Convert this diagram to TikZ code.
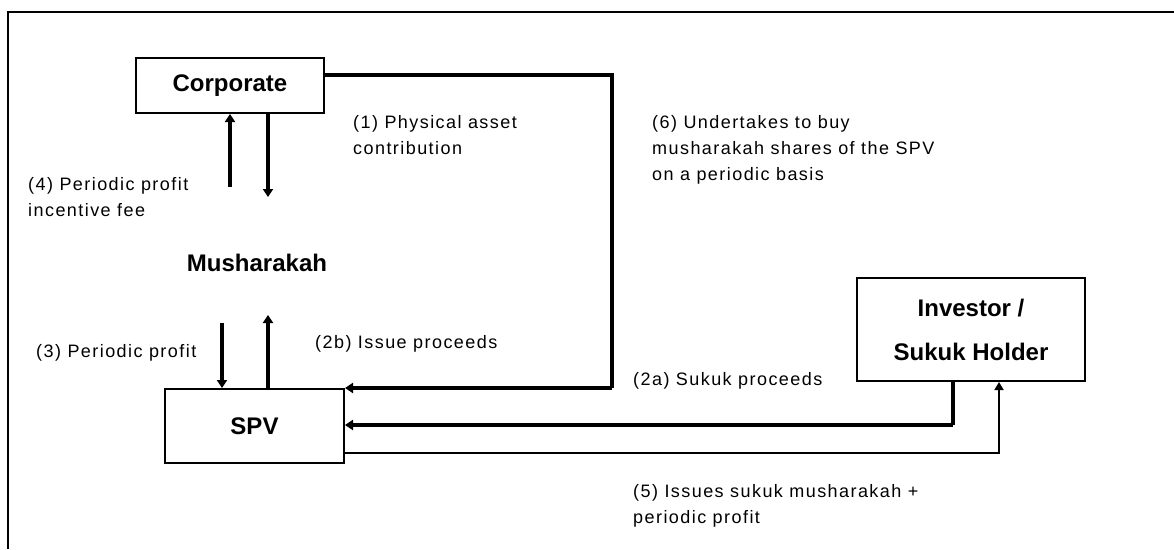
\documentclass[tikz,border=0pt]{standalone}
\usepackage{fontspec}
\setmainfont{Liberation Sans}
\usetikzlibrary{arrows.meta}
\newfontfamily\lblfont[LetterSpace=8]{Liberation Sans}
\tikzset{
  x=1pt, y=-1pt,
  box/.style={draw, line width=2pt, font=\fontsize{24}{44}\selectfont\bfseries, inner sep=0pt},
  title/.style={font=\fontsize{24}{28}\selectfont\bfseries, inner sep=0pt},
  lbl/.style={font=\lblfont\fontsize{18}{26}\selectfont, align=left, anchor=north west, inner sep=0pt},
  flow/.style={line width=3.5pt, -{Triangle[length=8pt,width=10pt]}},
  thinflow/.style={line width=1.8pt, -{Triangle[length=8pt,width=9pt]}},
  link/.style={line width=3.5pt}
}
\begin{document}
\begin{tikzpicture}
\useasboundingbox (0,0) rectangle (1174,549);
% outer frame (top and left edges)
\draw[line width=2.5pt] (8,549) -- (8,12) -- (1174,12);

% parties
\node[box, minimum width=188pt, minimum height=55pt] (corp) at (230,85.5) {Corporate};
\node[box, minimum width=179pt, minimum height=74pt] (spv) at (254.5,426) {SPV};
\node[box, minimum width=228pt, minimum height=103pt, align=center] (inv) at (971,329.5) {Investor /\\Sukuk Holder};
\node[title] (mush) at (257,263) {Musharakah};

% corner points of the routed connectors
\coordinate (c1a) at (612,75);
\coordinate (c1b) at (612,388);
\coordinate (c2a) at (953,425);
\coordinate (c5a) at (999,453);
\coordinate (fee) at (230,187);
\coordinate (contr) at (268,197);
\coordinate (prof) at (222,323);
\coordinate (proc) at (268,315);

% (1) asset contribution routed to the SPV
\draw[link] (corp.east |- c1a) -- (c1a) -- (c1b);
\draw[flow] (c1b) -- (spv.east |- c1b);
% Corporate <-> Musharakah
\draw[flow] (fee) -- (corp.south -| fee);
\draw[flow] (corp.south -| contr) -- (contr);
% Musharakah <-> SPV
\draw[flow] (prof) -- (spv.north -| prof);
\draw[flow] (spv.north -| proc) -- (proc);
% (2a) sukuk proceeds
\draw[link] (inv.south -| c2a) -- (c2a);
\draw[flow] (c2a) -- (spv.east |- c2a);
% (5) sukuk issued to investor
\draw[thinflow] (spv.east |- c5a) -- (c5a) -- (inv.south -| c5a);

% flow labels
\node[lbl] (l1) at (353,115) {(1) Physical asset\\contribution};
\node[lbl] (l4) at (28,177) {(4) Periodic profit\\incentive fee};
\node[lbl] (l6) at (652,115) {(6) Undertakes to buy\\musharakah shares of the SPV\\on a periodic basis};
\node[lbl] (l3) at (36,344) {(3) Periodic profit};
\node[lbl] (l2b) at (315,335) {(2b) Issue proceeds};
\node[lbl] (l2a) at (633,372) {(2a) Sukuk proceeds};
\node[lbl] (l5) at (633,484) {(5) Issues sukuk musharakah +\\periodic profit};
\end{tikzpicture}
\end{document}
